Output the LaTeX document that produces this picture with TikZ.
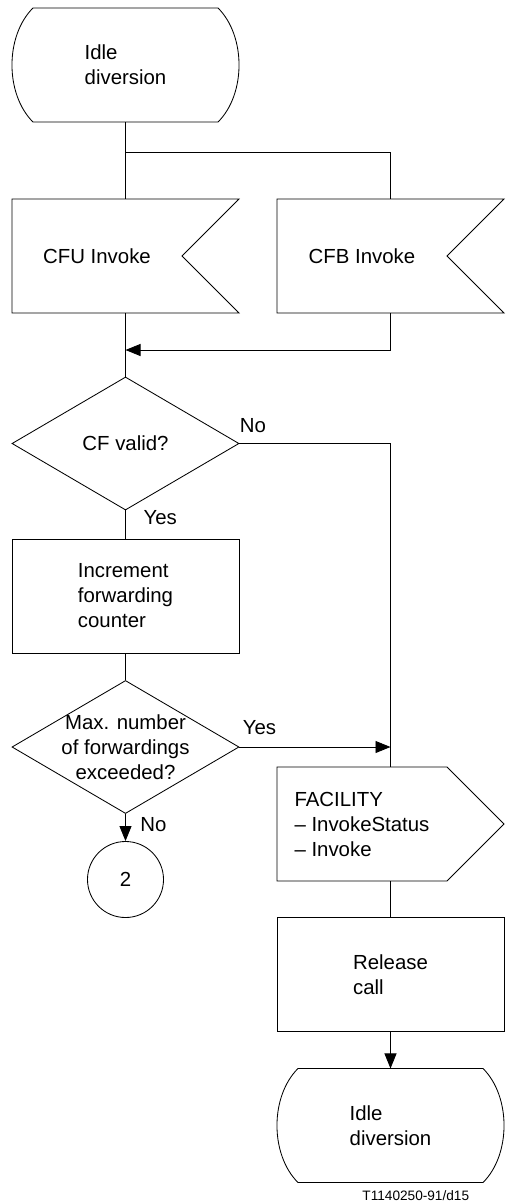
\documentclass[tikz,border=0pt]{standalone}
\usepackage{fontspec}
\setmainfont{Liberation Sans}
\usetikzlibrary{shapes.geometric, arrows.meta}

% SDL symbol outlines drawn round a named node
\newcommand{\sdlstate}[1]{%
  \draw ([xshift=0.525cm]#1.north west) -- ([xshift=-0.525cm]#1.north east)
    .. controls ([xshift=0.175cm,yshift=-0.7cm]#1.north east) and ([xshift=0.175cm,yshift=0.7cm]#1.south east) .. ([xshift=-0.525cm]#1.south east)
    -- ([xshift=0.525cm]#1.south west)
    .. controls ([xshift=-0.175cm,yshift=0.7cm]#1.south west) and ([xshift=-0.175cm,yshift=-0.7cm]#1.north west) .. ([xshift=0.525cm]#1.north west) -- cycle;}
\newcommand{\sdlinput}[1]{%
  \draw (#1.north west) -- (#1.north east) -- ([xshift=-1.425cm]#1.east) -- (#1.south east) -- (#1.south west) -- cycle;}
\newcommand{\sdloutput}[1]{%
  \draw (#1.north west) -- ([xshift=-1.425cm]#1.north east) -- (#1.east) -- ([xshift=-1.425cm]#1.south east) -- (#1.south west) -- cycle;}

\begin{document}
\begin{tikzpicture}[
    x=0.025cm, y=-0.025cm, line width=0.6pt,
    font=\fontsize{14.5pt}{17.8pt}\selectfont,
    sym/.style={rectangle, minimum width=5.675cm, minimum height=2.85cm, inner sep=0pt, outer sep=0pt, align=left},
    task/.style={sym, draw},
    dec/.style={diamond, draw, minimum width=5.675cm, minimum height=3.325cm, inner sep=0pt},
    conn/.style={circle, draw, minimum size=1.9cm},
    lbl/.style={inner sep=0pt},
    arr/.style={-{Triangle[length=3.75mm, width=3mm]}}
]
    \useasboundingbox (0,0) rectangle (509,1203);

    % Nodes using absolute coordinates
    \node[sym] (idle) at (125.5,65) {Idle\\diversion};
    \node[sym, label={[xshift=-0.7125cm]center:CFU Invoke}] (cfu) at (125.5,256) {};
    \node[sym, label={[xshift=-0.7125cm]center:CFB Invoke}] (cfb) at (390.5,256) {};
    \node[dec, label=center:CF valid?] (valid) at (125.5,443.5) {};
    \node[task] (incr) at (125.5,596) {Increment\\forwarding\\counter};
    \node[dec, label={[align=center]center:Max. number\\of forwardings\\exceeded?}] (maxfw) at (125.5,747) {};
    \node[conn] (two) at (125.5,879.5) {2};
    \node[sym, label={[xshift=-0.7125cm, align=left]center:FACILITY\\– InvokeStatus\\– Invoke}] (fac) at (390.5,824) {};
    \node[task] (rel) at (390.5,974.5) {Release\\call};
    \node[sym] (idle2) at (390.5,1125.5) {Idle\\diversion};

    \sdlstate{idle}
    \sdlinput{cfu}
    \sdlinput{cfb}
    \sdloutput{fac}
    \sdlstate{idle2}

    \coordinate (fork) at (125.5,152);
    \coordinate (merge) at (125.5,350);
    \coordinate (join) at (390.5,747);

    % Signal inputs
    \draw (idle) -- (cfu);
    \draw (fork) -| (cfb.north);
    \draw (cfu.south) -- (valid.north);
    \draw[arr] (cfb.south) |- (merge);

    % Checks
    \draw (valid.east) -| (fac.north);
    \node[lbl, anchor=south west] (vno) at ([yshift=0.26cm]valid.east) {No};
    \draw (valid.south) -- (incr.north);
    \node[lbl, anchor=north west] (vyes) at ([xshift=0.44cm]valid.south) {Yes};
    \draw (incr.south) -- (maxfw.north);
    \draw[arr] (maxfw.east) -- (join);
    \node[lbl, anchor=south west] (myes) at ([xshift=0.075cm, yshift=0.3cm]maxfw.east) {Yes};
    \draw[arr] (maxfw.south) -- (two.north);
    \node[lbl, anchor=north west] (mno) at ([xshift=0.36cm, yshift=-0.075cm]maxfw.south) {No};

    % Release
    \draw (fac.south) -- (rel.north);
    \draw[arr] (rel.south) -- (idle2.north);

    \node[lbl, font=\fontsize{9.7pt}{11pt}\selectfont, anchor=base west] (figno) at (362,1200) {T1140250-91/d15};
\end{tikzpicture}
\end{document}
